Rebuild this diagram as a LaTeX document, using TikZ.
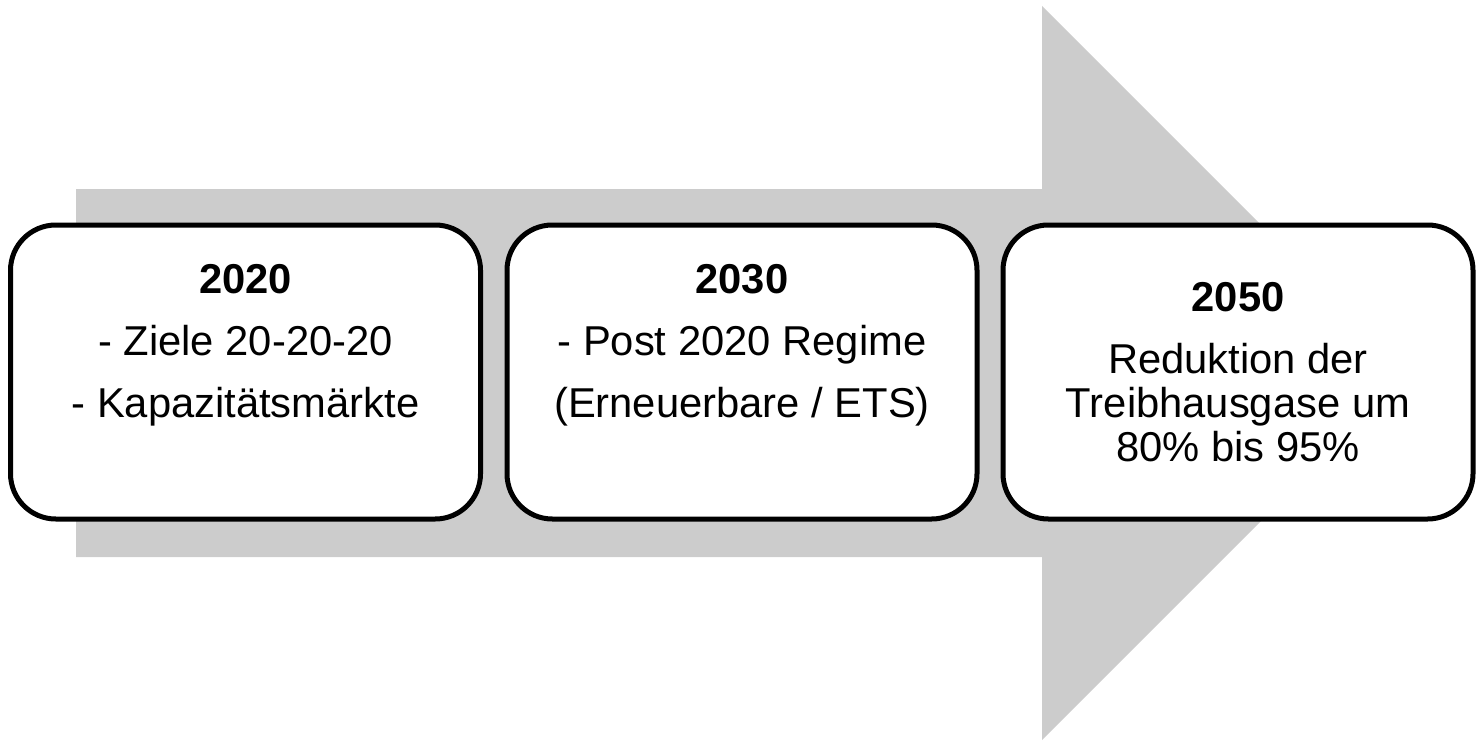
\documentclass[tikz,border=0pt]{standalone}
\usepackage{fontspec}
\setmainfont{Liberation Sans}
\begin{document}
\begin{tikzpicture}[
		x=0.75pt, y=-0.75pt,
		stage/.style={draw, fill=white, line width=3.75pt, rounded corners=34pt,
				minimum width=352.5pt, minimum height=220.5pt, inner sep=0pt, align=center},
		wide/.style={font=\fontsize{31.3}{46.5}\selectfont},
		tight/.style={font=\fontsize{31.3}{33}\selectfont}
	]
	\useasboundingbox (0,0) rectangle (1477,742);

	% grey arrow behind the stages
	\fill[gray!40] (76,189) -- (1042,189) -- (1042,6) -- (1409,373)
		-- (1042,740) -- (1042,557) -- (76,557) -- cycle;

	\node[stage, wide] (s2020) at (245.5,372) {\textbf{2020}\\- Ziele 20-20-20\\- Kapazitätsmärkte\\\mbox{}};
	\node[stage, wide] (s2030) at (742,372) {\textbf{2030}\\- Post 2020 Regime\\(Erneuerbare / ETS)\\\mbox{}};
	\node[stage, tight] (s2050) at (1238,372) {\textbf{2050}\\[13.5pt]Reduktion der\\Treibhausgase um\\80\% bis 95\%};
\end{tikzpicture}
\end{document}
